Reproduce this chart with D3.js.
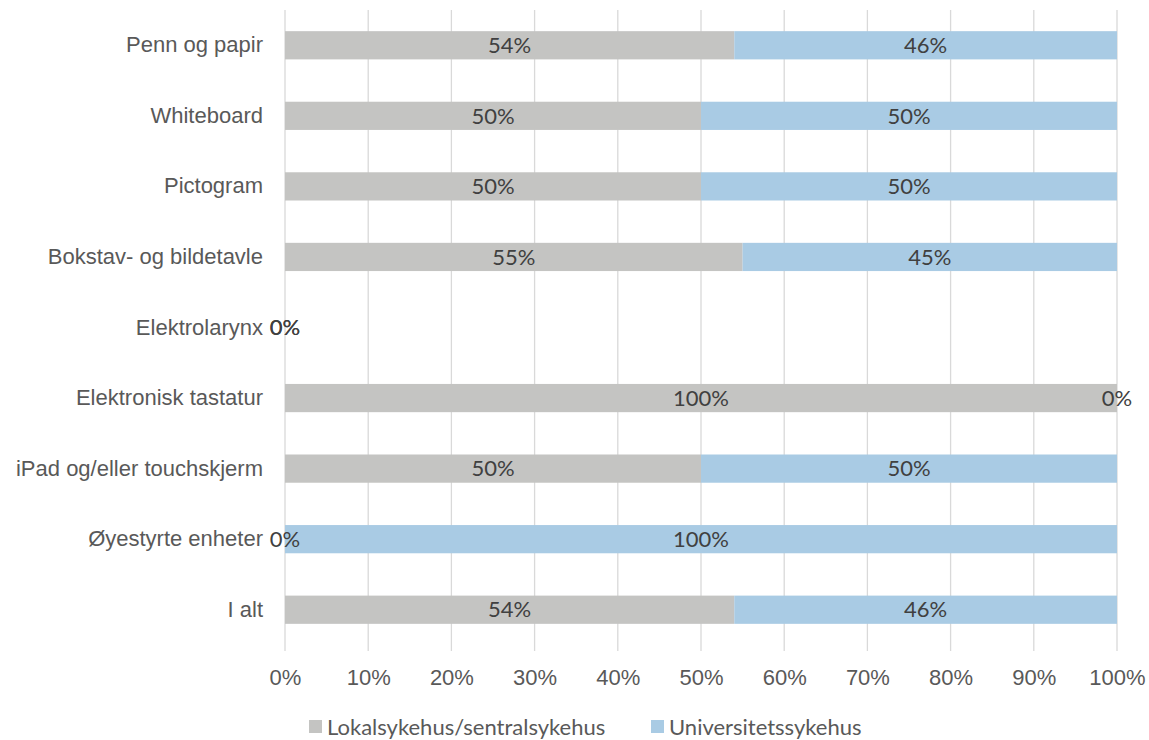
<!DOCTYPE html>
<html>
<head>
<meta charset="utf-8">
<script src="https://cdn.jsdelivr.net/npm/d3@7"></script>
<style>
  html, body { margin: 0; padding: 0; background: #fff; }
  svg { display: block; font-family: Lato, "Open Sans", sans-serif; }
</style>
</head>
<body>
<svg id="chart" width="1149" height="740"></svg>
<script>
// Communication aids by hospital type (share of each row)
const categories = [
  "Penn og papir",
  "Whiteboard",
  "Pictogram",
  "Bokstav- og bildetavle",
  "Elektrolarynx",
  "Elektronisk tastatur",
  "iPad og/eller touchskjerm",
  "Øyestyrte enheter",
  "I alt"
];
const seriesNames = ["Lokalsykehus/sentralsykehus", "Universitetssykehus"];
const lokal = [54, 50, 50, 55, 0, 100, 50, 0, 54];
const univ  = [46, 50, 50, 45, 0, 0, 50, 100, 46];
const tickValues = [0, 10, 20, 30, 40, 50, 60, 70, 80, 90, 100];
const colors = ["#C4C4C2", "#A9CBE4"];

const svg = d3.select("#chart");
const margin = { left: 285, right: 32, top: 10, bottom: 95 };
const W = 1149, H = 740;
const fs = 22;

const x = d3.scaleLinear().domain([0, 100]).range([margin.left, W - margin.right]);
const y = d3.scaleBand().domain(categories).range([margin.top, H - margin.bottom])
  .paddingInner(0.6).paddingOuter(0.3);

const textColor = "#595959";

// vertical gridlines, extended slightly below as tick marks
svg.append("g").selectAll("line").data(tickValues).join("line")
  .attr("x1", d => x(d)).attr("x2", d => x(d))
  .attr("y1", margin.top).attr("y2", H - margin.bottom + 6)
  .attr("stroke", "#D9D9D9").attr("stroke-width", 1.3);

// x axis labels
const xAxis = d3.axisBottom(x).tickValues(tickValues).tickFormat(d => d + "%").tickSize(0).tickPadding(0);
const gx = svg.append("g").attr("transform", `translate(0,${H - margin.bottom})`).call(xAxis);
gx.select(".domain").remove();
gx.selectAll("text").attr("dy", null).attr("y", 40)
  .attr("font-size", fs).attr("fill", textColor).attr("font-family", "inherit");

// y axis labels
const yAxis = d3.axisLeft(y).tickSize(0).tickPadding(22);
const gy = svg.append("g").attr("transform", `translate(${margin.left},0)`).call(yAxis);
gy.select(".domain").remove();
gy.selectAll("text").attr("font-size", fs).attr("fill", textColor).attr("font-family", "inherit");

// stacked segments
const rows = categories.map((c, i) => ({ cat: c, vals: [lokal[i], univ[i]] }));
const segs = [];
rows.forEach(r => {
  let acc = 0;
  r.vals.forEach((v, k) => {
    segs.push({ cat: r.cat, k, x0: acc, x1: acc + v, v });
    acc += v;
  });
});

svg.append("g").selectAll("rect").data(segs).join("rect")
  .attr("x", d => x(d.x0))
  .attr("y", d => y(d.cat))
  .attr("width", d => x(d.x1) - x(d.x0))
  .attr("height", y.bandwidth())
  .attr("fill", d => colors[d.k]);

// value labels centered in each segment
svg.append("g").selectAll("text").data(segs).join("text")
  .attr("x", d => x((d.x0 + d.x1) / 2))
  .attr("y", d => y(d.cat) + y.bandwidth() / 2)
  .attr("dy", "0.35em")
  .attr("text-anchor", "middle")
  .attr("font-size", fs)
  .attr("fill", "#404040")
  .text(d => d.v + "%");

// legend
const legend = svg.append("g");
const legendX = [309, 651];
seriesNames.forEach((name, k) => {
  legend.append("rect").attr("x", legendX[k]).attr("y", 720).attr("width", 13).attr("height", 13)
    .attr("fill", colors[k]);
  legend.append("text").attr("x", legendX[k] + 18).attr("y", 727).attr("dy", "0.35em")
    .attr("font-size", fs).attr("fill", textColor).text(name);
});
</script>
</body>
</html>
